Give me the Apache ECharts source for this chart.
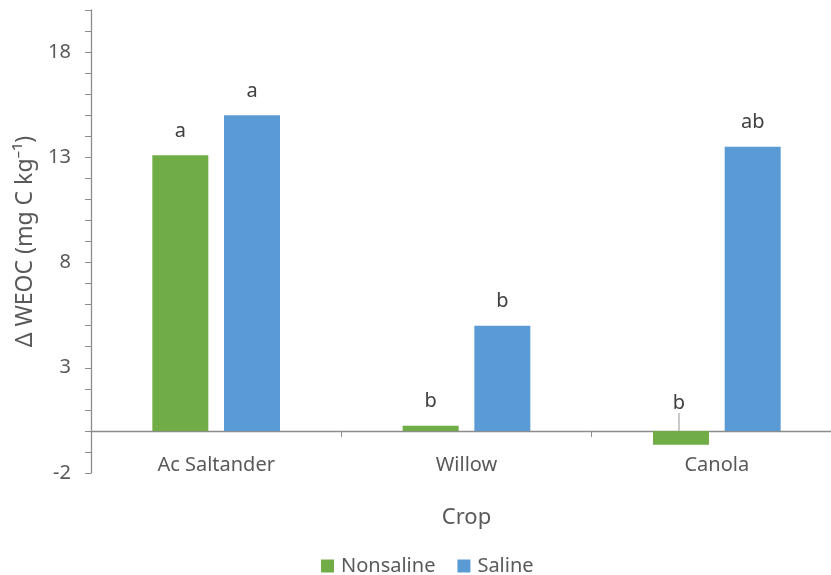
<!DOCTYPE html>
<html>
<head>
<meta charset="utf-8">
<script src="https://cdn.jsdelivr.net/npm/echarts@6/dist/echarts.min.js"></script>
<style>
  html, body { margin: 0; padding: 0; background: #ffffff; }
  #chart { width: 831px; height: 575px; }
</style>
</head>
<body>
<div id="chart"></div>
<script>
// Crops and the change in water-extractable organic carbon (mg C per kg)
const crops = ['Ac Saltander', 'Willow', 'Canola'];
const nonsaline = [13.1, 0.25, -0.66];
const saline = [15.0, 5.0, 13.5];
// Significance letters printed above each bar
const nonsalineLetters = ['a', 'b', 'b'];
const salineLetters = ['a', 'b', 'ab'];
// Value axis range and the values that carry a tick label
const yMin = -2;
const yMax = 20;
const yLabelled = [-2, 3, 8, 13, 18];

const FONT = '"Noto Sans", "DejaVu Sans", sans-serif';
const GREEN = '#70ad47';
const BLUE = '#5b9bd5';
const AXIS_GREY = '#8c8c8c';
const TEXT_GREY = '#595959';
const LABEL_GREY = '#404040';

function letterLabel(letters) {
  return function (p) { return letters[p.dataIndex]; };
}

// The negative Canola bar keeps its letter above the zero line with a guide line
const nonsalineData = nonsaline.map(function (v) {
  if (v < 0) {
    return {
      value: v,
      label: { position: 'top', distance: 14 },
      labelLine: { show: true, lineStyle: { color: '#a6a6a6', width: 1.2 } }
    };
  }
  return v;
});

const chart = echarts.init(document.getElementById('chart'));
chart.setOption({
  backgroundColor: '#ffffff',
  animation: false,
  textStyle: { fontFamily: FONT },
  grid: { left: 91, right: -11, top: 10, bottom: 102, containLabel: false, outerBoundsMode: 'none' },
  legend: {
    top: 551,
    left: 316,
    itemWidth: 13,
    itemHeight: 13,
    itemGap: 22,
    icon: 'rect',
    textStyle: { fontFamily: FONT, fontSize: 20, color: TEXT_GREY, padding: [0, 0, 0, 2] },
    data: ['Nonsaline', 'Saline']
  },
  xAxis: {
    type: 'category',
    data: crops,
    name: 'Crop',
    nameLocation: 'middle',
    nameGap: 34,
    nameTextStyle: { fontFamily: FONT, fontSize: 22, color: TEXT_GREY },
    axisLine: { show: true, onZero: true, lineStyle: { color: AXIS_GREY, width: 1.3 } },
    axisTick: { show: true, length: 6, lineStyle: { color: AXIS_GREY } },
    axisLabel: { margin: -18, fontFamily: FONT, fontSize: 20, color: TEXT_GREY }
  },
  yAxis: {
    type: 'value',
    min: yMin,
    max: yMax,
    interval: 1,
    name: 'Δ WEOC (mg C kg⁻¹)',
    nameLocation: 'middle',
    nameGap: 54,
    nameTextStyle: { fontFamily: FONT, fontSize: 23, color: TEXT_GREY },
    axisLine: { show: true, lineStyle: { color: AXIS_GREY, width: 1.3 } },
    axisTick: { show: true, length: 6, lineStyle: { color: AXIS_GREY } },
    splitLine: { show: false },
    axisLabel: {
      margin: 20,
      fontFamily: FONT,
      fontSize: 20,
      color: TEXT_GREY,
      formatter: function (v) { return yLabelled.indexOf(v) >= 0 ? String(v) : ''; }
    }
  },
  series: [
    {
      name: 'Nonsaline',
      type: 'bar',
      data: nonsalineData,
      barGap: '28%',
      barCategoryGap: '49%',
      itemStyle: { color: GREEN },
      label: {
        show: true,
        position: 'top',
        distance: 14,
        fontFamily: FONT,
        fontSize: 20,
        color: LABEL_GREY,
        formatter: letterLabel(nonsalineLetters)
      },
      labelLayout: function (params) {
        // lift the letter of the negative bar so its guide line shows
        if (nonsaline[params.dataIndex] < 0) {
          return { dx: -2, dy: -4 };
        }
        return {};
      }
    },
    {
      name: 'Saline',
      type: 'bar',
      data: saline,
      barGap: '28%',
      barCategoryGap: '49%',
      itemStyle: { color: BLUE },
      label: {
        show: true,
        position: 'top',
        distance: 14,
        fontFamily: FONT,
        fontSize: 20,
        color: LABEL_GREY,
        formatter: letterLabel(salineLetters)
      }
    }
  ]
});
</script>
</body>
</html>
